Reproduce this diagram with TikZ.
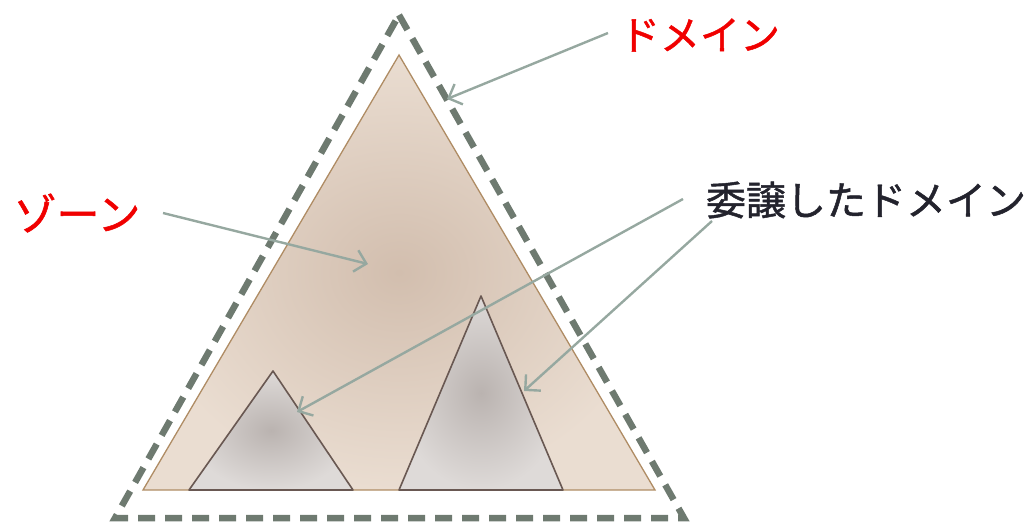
\documentclass[tikz,border=0pt]{standalone}
\usepackage{fontspec}
\newfontfamily\jpfont[FakeBold=1.2]{Noto Sans CJK JP}
\usetikzlibrary{arrows.meta}
\definecolor{dashgray}{RGB}{110,122,112}
\definecolor{arrowgray}{RGB}{150,168,160}
\definecolor{zonefill}{RGB}{210,190,174}
\definecolor{zoneedge}{RGB}{234,221,209}
\definecolor{zoneline}{RGB}{175,140,100}
\definecolor{subin}{RGB}{186,179,176}
\definecolor{subout}{RGB}{222,218,216}
\definecolor{subline}{RGB}{105,88,82}
\definecolor{labred}{RGB}{240,0,0}
\definecolor{labdark}{RGB}{35,35,45}
\tikzset{
  lab/.style={font=\jpfont\fontsize{40}{44}\selectfont, inner sep=0pt},
  pointer/.style={draw=arrowgray, line width=2.4pt, -{Straight Barb[length=11pt,width=22pt,line width=2.4pt]}},
  domainline/.style={draw=dashgray, line width=6.5pt, dash pattern=on 17pt off 10pt, line join=miter},
}
\begin{document}
\begin{tikzpicture}[x=1pt,y=-1pt]
\useasboundingbox (0,0) rectangle (1029,523);
% outer domain (dashed)
\draw[domainline] (399,15) -- (684,518) -- (115,518) -- cycle;
% zone
\shade[inner color=zonefill, outer color=zoneedge] (399,55) -- (655,490) -- (143,490) -- cycle;
\draw[zoneline, line width=1.3pt] (399,55) -- (655,490) -- (143,490) -- cycle;
% delegated domains
\shade[inner color=subin, outer color=subout] (273,371) -- (353,490) -- (189,490) -- cycle;
\draw[subline, line width=1.6pt, line join=round] (273,371) -- (353,490) -- (189,490) -- cycle;
\shade[inner color=subin, outer color=subout] (481,296) -- (563,490) -- (399,490) -- cycle;
\draw[subline, line width=1.6pt, line join=round] (481,296) -- (563,490) -- (399,490) -- cycle;
% labels
\node[lab, text=labred] (dom) at (700,35) {ドメイン};
\node[lab, text=labred, font=\jpfont\fontsize{43}{47}\selectfont] (zone) at (77,213) {ゾーン};
\node[lab, text=labdark] (deleg) at (866,200) {委譲したドメイン};
% arrow ends
\coordinate (domS) at (608,33);
\coordinate (domE) at (447,99);
\coordinate (zoneS) at (163,213);
\coordinate (zoneE) at (368,264);
\coordinate (d1S) at (683,199);
\coordinate (d1E) at (297,412);
\coordinate (d2S) at (712,221);
\coordinate (d2E) at (524,391);
\draw[pointer] (domS) -- (domE);
\draw[pointer] (zoneS) -- (zoneE);
\draw[pointer] (d1S) -- (d1E);
\draw[pointer] (d2S) -- (d2E);
\end{tikzpicture}
\end{document}
